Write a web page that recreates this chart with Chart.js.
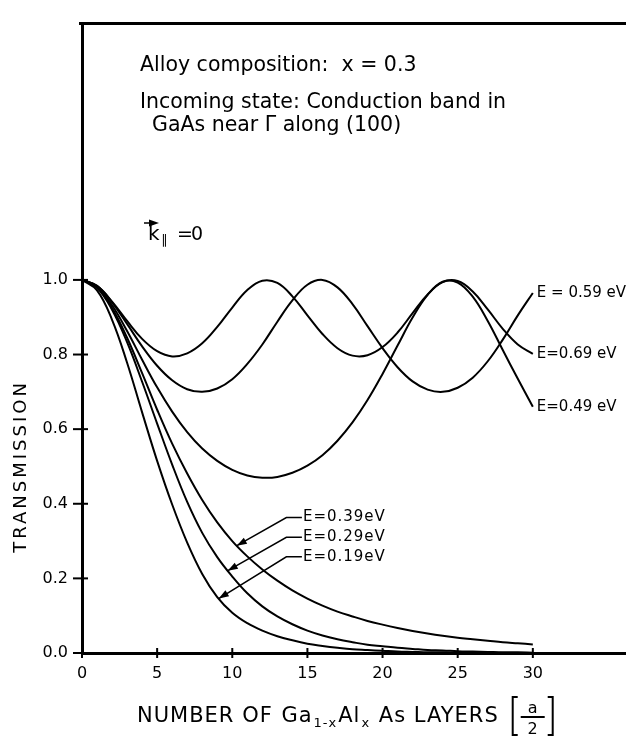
<!DOCTYPE html>
<html>
<head>
<meta charset="utf-8">
<script src="https://cdn.jsdelivr.net/npm/chart.js@4.4.1/dist/chart.umd.min.js"></script>
<style>
    html, body { margin: 0; padding: 0; background: #fff; }
    #contenedor { width: 626px; height: 736px; }
</style>
</head>
<body>
<div id="contenedor"><canvas id="transmissionChart" width="626" height="736"></canvas></div>
<script>
// Número de capas (eje x) y transmisión para cada energía
const capas = [0, 1, 2, 3, 4, 5, 6, 7, 8, 9, 10, 11, 12, 13, 14, 15, 16, 17, 18, 19, 20, 21, 22, 23, 24, 25, 26, 27, 28, 29, 30];

const t069 = [1.000, 0.984, 0.942, 0.890, 0.842, 0.809, 0.795, 0.803, 0.830, 0.874, 0.926, 0.973, 0.998, 0.992, 0.956, 0.905,
              0.855, 0.817, 0.797, 0.798, 0.820, 0.859, 0.911, 0.961, 0.994, 0.997, 0.969, 0.921, 0.869, 0.827, 0.802];
const t059 = [1.000, 0.984, 0.940, 0.882, 0.822, 0.770, 0.731, 0.707, 0.700, 0.709, 0.734, 0.775, 0.827, 0.888, 0.945, 0.987,
              1.000, 0.980, 0.935, 0.876, 0.817, 0.766, 0.728, 0.706, 0.700, 0.711, 0.738, 0.782, 0.840, 0.905, 0.965];
const t049 = [1.000, 0.982, 0.932, 0.863, 0.786, 0.712, 0.647, 0.592, 0.548, 0.515, 0.491, 0.476, 0.470, 0.472, 0.483, 0.502,
              0.530, 0.569, 0.618, 0.678, 0.748, 0.824, 0.899, 0.960, 0.995, 0.993, 0.955, 0.890, 0.812, 0.735, 0.660];
const t039 = [1.000, 0.980, 0.925, 0.845, 0.750, 0.652, 0.561, 0.481, 0.410, 0.350, 0.300, 0.259, 0.224, 0.194, 0.168, 0.146,
              0.127, 0.111, 0.098, 0.086, 0.076, 0.067, 0.059, 0.052, 0.046, 0.041, 0.037, 0.033, 0.029, 0.026, 0.023];
const t029 = [1.000, 0.979, 0.920, 0.833, 0.727, 0.615, 0.505, 0.405, 0.322, 0.257, 0.205, 0.160, 0.125, 0.098, 0.077, 0.060,
              0.047, 0.037, 0.029, 0.022, 0.018, 0.014, 0.011, 0.008, 0.007, 0.005, 0.004, 0.003, 0.002, 0.002, 0.001];
const t019 = [1.000, 0.972, 0.893, 0.778, 0.645, 0.515, 0.398, 0.296, 0.212, 0.150, 0.108, 0.080, 0.060, 0.045, 0.034, 0.025,
              0.019, 0.014, 0.010, 0.008, 0.006, 0.004, 0.003, 0.002, 0.002, 0.001, 0.001, 0.001, 0.000, 0.000, 0.000];

// Marcas de los ejes
const xTicks = [0, 5, 10, 15, 20, 25, 30];
const yTicks = [0.0, 0.2, 0.4, 0.6, 0.8, 1.0];

// Etiquetas al final de las curvas oscilantes
const etiquetasArriba = ['E = 0.59 eV', 'E=0.69 eV', 'E=0.49 eV'];
const seriesArriba = [t059, t069, t049];

// Etiquetas con flecha para las curvas que decaen
const etiquetasAbajo = ['E=0.39eV', 'E=0.29eV', 'E=0.19eV'];
const seriesAbajo = [t039, t029, t019];
const etiquetaAbajoY = [0.363, 0.31, 0.258];
const flechaX = [10.3, 9.7, 9.1];

const FUENTE = '"DejaVu Sans", sans-serif';

function puntos(valores) {
    return valores.map((v, i) => ({ x: capas[i], y: v }));
}

// Valor de una serie en una x cualquiera (interpolación lineal entre capas)
function valorEn(serie, xv) {
    const i = Math.min(Math.floor(xv), serie.length - 2);
    const f = xv - i;
    return serie[i] * (1 - f) + serie[i + 1] * f;
}

function linea(ctx, x1, y1, x2, y2) {
    ctx.beginPath();
    ctx.moveTo(x1, y1);
    ctx.lineTo(x2, y2);
    ctx.stroke();
}

function punta(ctx, xDesde, yDesde, xTip, yTip) {
    const ang = Math.atan2(yTip - yDesde, xTip - xDesde);
    const largo = 10, ancho = 3.5;
    ctx.beginPath();
    ctx.moveTo(xTip, yTip);
    ctx.lineTo(xTip - largo * Math.cos(ang) + ancho * Math.sin(ang), yTip - largo * Math.sin(ang) - ancho * Math.cos(ang));
    ctx.lineTo(xTip - largo * Math.cos(ang) - ancho * Math.sin(ang), yTip - largo * Math.sin(ang) + ancho * Math.cos(ang));
    ctx.closePath();
    ctx.fill();
}

// Plugin para el marco superior, las marcas en cruz y todos los textos
const decoraciones = {
    id: 'decoraciones',
    afterDraw(chart) {
        const { ctx, chartArea: area, scales: { x, y } } = chart;
        ctx.save();
        ctx.strokeStyle = '#000';
        ctx.fillStyle = '#000';

        // línea superior del marco
        ctx.lineWidth = 3;
        linea(ctx, area.left - 3, area.top, area.right, area.top);

        // marcas
        ctx.lineWidth = 2;
        yTicks.forEach(v => {
            const py = y.getPixelForValue(v);
            linea(ctx, area.left - 9, py, area.left + 6, py);
        });
        xTicks.forEach(v => {
            const px = x.getPixelForValue(v);
            linea(ctx, px, area.bottom - 5, px, area.bottom + 5);
        });

        // texto de encabezado
        ctx.textBaseline = 'alphabetic';
        ctx.textAlign = 'left';
        ctx.font = `20.5px ${FUENTE}`;
        ctx.fillText('Alloy composition:  x = 0.3', 140, 71);
        ctx.fillText('Incoming state: Conduction band in', 140, 108);
        ctx.fillText('GaAs near \u0393 along (100)', 152, 131);

        // k paralelo = 0
        ctx.font = `20px ${FUENTE}`;
        ctx.fillText('k', 148, 240);
        ctx.lineWidth = 1.5;
        linea(ctx, 144, 223, 156, 223);
        punta(ctx, 144, 223, 159, 223);
        ctx.font = `13px ${FUENTE}`;
        ctx.fillText('\u2225', 161, 244);
        ctx.font = `19px ${FUENTE}`;
        ctx.fillText('=', 177, 240);
        ctx.fillText('0', 191, 240);

        // título del eje y
        ctx.save();
        const medioY = (y.getPixelForValue(0) + y.getPixelForValue(1)) / 2;
        ctx.translate(21, medioY);
        ctx.rotate(-Math.PI / 2);
        ctx.font = `18px ${FUENTE}`;
        ctx.letterSpacing = '3px';
        ctx.textAlign = 'center';
        ctx.textBaseline = 'middle';
        ctx.fillText('TRANSMISSION', 0, 0);
        ctx.restore();

        // etiquetas al final de las curvas oscilantes
        ctx.textBaseline = 'middle';
        ctx.font = `15px ${FUENTE}`;
        etiquetasArriba.forEach((txt, i) => {
            const serie = seriesArriba[i];
            const px = x.getPixelForValue(30);
            const py = y.getPixelForValue(serie[serie.length - 1]);
            ctx.fillText(txt, px + 4, py);
        });

        // etiquetas con flecha
        ctx.lineWidth = 1.5;
        ctx.letterSpacing = '1px';
        etiquetasAbajo.forEach((txt, i) => {
            const lx = x.getPixelForValue(14.7);
            const ly = y.getPixelForValue(etiquetaAbajoY[i]);
            ctx.fillText(txt, lx, ly);
            const codoX = x.getPixelForValue(13.6);
            const tipX = x.getPixelForValue(flechaX[i]);
            const tipY = y.getPixelForValue(valorEn(seriesAbajo[i], flechaX[i]));
            ctx.beginPath();
            ctx.moveTo(lx - 1, ly);
            ctx.lineTo(codoX, ly);
            ctx.lineTo(tipX, tipY);
            ctx.stroke();
            punta(ctx, codoX, ly, tipX, tipY);
        });

        // título del eje x con subíndices y [a/2]
        const base = 722;
        let cx = 137;
        const trozos = [
            { t: 'NUMBER OF ', s: 21, dy: 0 },
            { t: 'Ga', s: 21, dy: 0 },
            { t: '1-x', s: 13, dy: 5 },
            { t: 'Al', s: 21, dy: 0 },
            { t: 'x', s: 13, dy: 5 },
            { t: ' As LAYERS', s: 21, dy: 0 }
        ];
        ctx.textBaseline = 'alphabetic';
        ctx.letterSpacing = '1px';
        trozos.forEach(tr => {
            ctx.font = `${tr.s}px ${FUENTE}`;
            ctx.fillText(tr.t, cx, base + tr.dy);
            cx += ctx.measureText(tr.t).width + 1;
        });
        ctx.letterSpacing = '0px';
        const bx = cx + 13;
        ctx.lineWidth = 2;
        ctx.beginPath();
        ctx.moveTo(bx + 5, 697); ctx.lineTo(bx, 697); ctx.lineTo(bx, 735); ctx.lineTo(bx + 5, 735);
        ctx.moveTo(bx + 35, 697); ctx.lineTo(bx + 40, 697); ctx.lineTo(bx + 40, 735); ctx.lineTo(bx + 35, 735);
        ctx.stroke();
        linea(ctx, bx + 8, 717, bx + 32, 717);
        ctx.font = `16px ${FUENTE}`;
        ctx.textAlign = 'center';
        ctx.fillText('a', bx + 20, 713);
        ctx.fillText('2', bx + 20, 734);

        ctx.restore();
    }
};

function crearDataset(valores) {
    return {
        data: puntos(valores),
        borderColor: '#000',
        borderWidth: 2,
        pointRadius: 0,
        fill: false,
        tension: 0.4
    };
}

const ctx = document.getElementById('transmissionChart').getContext('2d');
const transmissionChart = new Chart(ctx, {
    type: 'line',
    data: {
        datasets: [t069, t059, t049, t039, t029, t019].map(crearDataset)
    },
    options: {
        responsive: false,
        animation: false,
        devicePixelRatio: 1,
        layout: { padding: { top: 12, right: 0, bottom: 0, left: 0 } },
        plugins: {
            legend: { display: false },
            tooltip: { enabled: false }
        },
        scales: {
            x: {
                type: 'linear',
                min: 0,
                max: 36.2,
                afterFit: s => { s.height = 83; },
                afterBuildTicks: s => { s.ticks = xTicks.map(v => ({ value: v })); },
                grid: { display: false, drawTicks: false },
                border: { display: true, color: '#000', width: 3 },
                ticks: {
                    color: '#000',
                    padding: 11,
                    maxRotation: 0,
                    autoSkip: false,
                    font: { family: FUENTE, size: 16 },
                    callback: v => String(v)
                }
            },
            y: {
                min: 0,
                max: 1.687,
                afterFit: s => { s.width = 82; },
                afterBuildTicks: s => { s.ticks = yTicks.map(v => ({ value: v })); },
                grid: { display: false, drawTicks: false },
                border: { display: true, color: '#000', width: 3 },
                ticks: {
                    color: '#000',
                    padding: 14,
                    font: { family: FUENTE, size: 16 },
                    callback: v => v.toFixed(1)
                }
            }
        }
    },
    plugins: [decoraciones]
});
</script>
</body>
</html>
